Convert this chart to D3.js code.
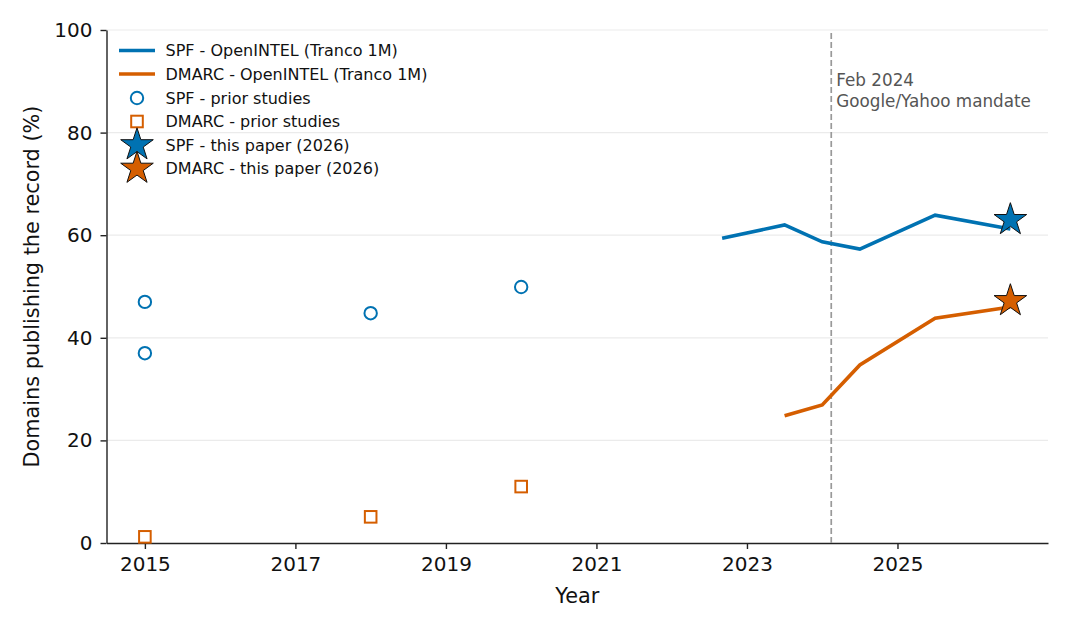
<!DOCTYPE html>
<html>
<head>
<meta charset="utf-8">
<script src="https://cdn.jsdelivr.net/npm/d3@7"></script>
<style>
  body { margin: 0; background: #fff; }
  svg text { font-family: "DejaVu Sans", sans-serif; }
</style>
</head>
<body>
<script>
"use strict";

// OpenINTEL (Tranco 1M) series
const openintelYears = [2022.67, 2023.5, 2024.0, 2024.5, 2025.5, 2026.5];
const spfOpenintel   = [59.4, 62.0, 58.7, 57.3, 63.9, 61.2];
const dmarcYears     = [2023.5, 2024.0, 2024.5, 2025.5, 2026.5];
const dmarcOpenintel = [24.8, 26.9, 34.7, 43.8, 46.0];

// prior studies
const spfPriorYears  = [2015, 2015, 2018, 2020];
const spfPrior       = [47, 37, 44.8, 49.9];
const dmarcPriorYears = [2015, 2018, 2020];
const dmarcPrior     = [1.2, 5.1, 11.0];

// this paper
const paperYear = 2026.5;
const spfPaper = 63.0;
const dmarcPaper = 47.2;

const mandateYear = 2024.12;
const xTicks = [2015, 2017, 2019, 2021, 2023, 2025];
const yTicks = [0, 20, 40, 60, 80, 100];

const blue = "#0072B2", orange = "#D55E00";

const width = 1080, height = 630;
const margin = {left: 106.5, right: 32, top: 30, bottom: 87};

let svg = d3.select("body").append("svg").attr("width", width).attr("height", height);

let x = d3.scaleLinear().domain([2014.49, 2027.0]).range([margin.left, width - margin.right]);
let y = d3.scaleLinear().domain([0, 100]).range([height - margin.bottom, margin.top]);

// grid
svg.append("g").selectAll("line")
    .data(yTicks.filter(d => d > 0))
    .enter().append("line")
    .attr("x1", margin.left).attr("x2", width - margin.right)
    .attr("y1", d => y(d)).attr("y2", d => y(d))
    .attr("stroke", "#ebebeb").attr("stroke-width", 1.2);

// axes
let xAxis = svg.append("g")
    .attr("transform", `translate(0,${y(0)})`)
    .call(d3.axisBottom(x).tickValues(xTicks).tickFormat(d3.format("d")).tickSize(6).tickSizeOuter(0).tickPadding(8));
let yAxis = svg.append("g")
    .attr("transform", `translate(${margin.left},0)`)
    .call(d3.axisLeft(y).tickValues(yTicks).tickSize(6).tickSizeOuter(0).tickPadding(8));
[xAxis, yAxis].forEach(a => {
    a.select(".domain").attr("stroke", "#222").attr("stroke-width", 1.4);
    a.selectAll(".tick line").attr("stroke", "#222").attr("stroke-width", 1.4);
    a.selectAll(".tick text").attr("font-size", 20).attr("fill", "#111");
});

svg.append("text").attr("x", (margin.left + width - margin.right) / 2).attr("y", 603)
    .attr("text-anchor", "middle").attr("font-size", 20.8).attr("fill", "#111").text("Year");
svg.append("text")
    .attr("transform", `translate(39,${(y(0) + y(100)) / 2}) rotate(-90)`)
    .attr("text-anchor", "middle").attr("font-size", 20.8).attr("fill", "#111")
    .text("Domains publishing the record (%)");

// mandate line
svg.append("line")
    .attr("x1", x(mandateYear)).attr("x2", x(mandateYear))
    .attr("y1", y(0)).attr("y2", y(100))
    .attr("stroke", "#999").attr("stroke-width", 1.7).attr("stroke-dasharray", "6,3");
svg.append("text").attr("x", x(mandateYear) + 5).attr("y", 86)
    .attr("font-size", 16.8).attr("fill", "#555").text("Feb 2024");
svg.append("text").attr("x", x(mandateYear) + 5).attr("y", 107)
    .attr("font-size", 16.8).attr("fill", "#555").text("Google/Yahoo mandate");

// lines
let line = d3.line().x(d => x(d[0])).y(d => y(d[1]));
svg.append("path").datum(d3.zip(openintelYears, spfOpenintel))
    .attr("d", line).attr("fill", "none").attr("stroke", blue).attr("stroke-width", 3.6);
svg.append("path").datum(d3.zip(dmarcYears, dmarcOpenintel))
    .attr("d", line).attr("fill", "none").attr("stroke", orange).attr("stroke-width", 3.6);

// prior studies
svg.append("g").selectAll("circle")
    .data(d3.zip(spfPriorYears, spfPrior))
    .enter().append("circle")
    .attr("cx", d => x(d[0])).attr("cy", d => y(d[1])).attr("r", 6.2)
    .attr("fill", "none").attr("stroke", blue).attr("stroke-width", 2);
svg.append("g").selectAll("rect")
    .data(d3.zip(dmarcPriorYears, dmarcPrior))
    .enter().append("rect")
    .attr("x", d => x(d[0]) - 5.8).attr("y", d => y(d[1]) - 5.8)
    .attr("width", 11.6).attr("height", 11.6)
    .attr("fill", "none").attr("stroke", orange).attr("stroke-width", 2);

// stars
let star = d3.symbol().type(d3.symbolStar).size(330);
svg.append("g").selectAll("path")
    .data([[spfPaper, blue], [dmarcPaper, orange]])
    .enter().append("path")
    .attr("d", star)
    .attr("transform", d => `translate(${x(paperYear)},${y(d[0])})`)
    .attr("fill", d => d[1]).attr("stroke", "#111").attr("stroke-width", 1);

// legend
let legend = svg.append("g");
let rows = [
    {label: "SPF - OpenINTEL (Tranco 1M)", kind: "line", color: blue, y: 50.5},
    {label: "DMARC - OpenINTEL (Tranco 1M)", kind: "line", color: orange, y: 74},
    {label: "SPF - prior studies", kind: "circle", color: blue, y: 98},
    {label: "DMARC - prior studies", kind: "square", color: orange, y: 121.5},
    {label: "SPF - this paper (2026)", kind: "star", color: blue, y: 145},
    {label: "DMARC - this paper (2026)", kind: "star", color: orange, y: 168.5}
];
rows.forEach(r => {
    if (r.kind === "line") {
        legend.append("line").attr("x1", 119).attr("x2", 155).attr("y1", r.y).attr("y2", r.y)
            .attr("stroke", r.color).attr("stroke-width", 3.6);
    } else if (r.kind === "circle") {
        legend.append("circle").attr("cx", 137).attr("cy", r.y).attr("r", 6.2)
            .attr("fill", "none").attr("stroke", r.color).attr("stroke-width", 2);
    } else if (r.kind === "square") {
        legend.append("rect").attr("x", 137 - 5.8).attr("y", r.y - 5.8).attr("width", 11.6).attr("height", 11.6)
            .attr("fill", "none").attr("stroke", r.color).attr("stroke-width", 2);
    } else {
        legend.append("path").attr("d", star).attr("transform", `translate(137,${r.y})`)
            .attr("fill", r.color).attr("stroke", "#111").attr("stroke-width", 1);
    }
    legend.append("text").attr("x", 165.5).attr("y", r.y).attr("dy", "0.35em")
        .attr("font-size", 16).attr("fill", "#111").text(r.label);
});
</script>
</body>
</html>
